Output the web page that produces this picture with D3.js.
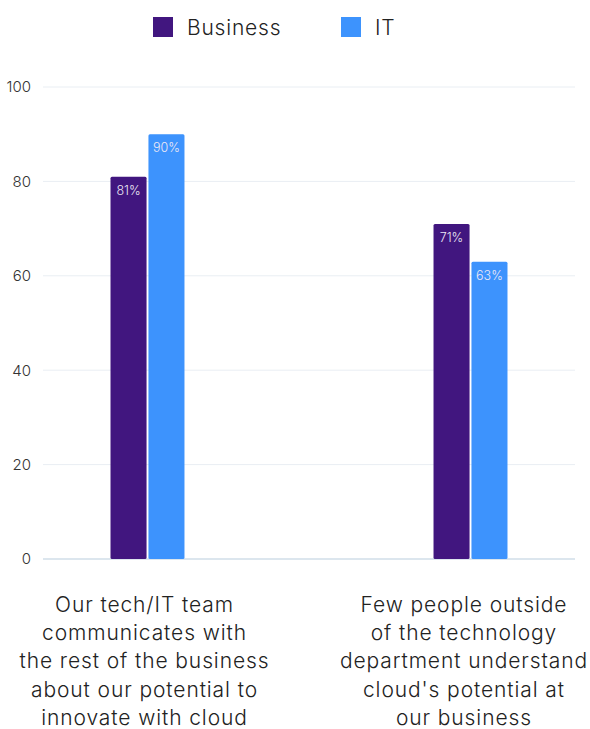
<!DOCTYPE html>
<html>
<head>
<meta charset="utf-8">
<script src="https://cdn.jsdelivr.net/npm/d3@7"></script>
<style>
  body { margin: 0; background: #fff; font-family: Inter, "Noto Sans", sans-serif; }
</style>
</head>
<body>
<div id="chart"></div>
<script>
const categories = [
    ["Our tech/IT team", "communicates with", "the rest of the business", "about our potential to", "innovate with cloud"],
    ["Few people outside", "of the technology", "department understand", "cloud's potential at", "our business"]
];
const seriesNames = ["Business", "IT"];
const businessValues = [81, 71];
const itValues = [90, 63];
const yTicks = [0, 20, 40, 60, 80, 100];
const colors = ["#41167f", "#3d93fd"];

const width = 590, height = 729;
const margin = { LEFT: 43, RIGHT: 15, TOP: 87, BOTTOM: 170 };
const innerW = width - margin.LEFT - margin.RIGHT;
const innerH = height - margin.TOP - margin.BOTTOM;

const svg = d3.select("#chart").append("svg")
    .attr("width", width)
    .attr("height", height);

const g = svg.append("g")
    .attr("transform", `translate(${margin.LEFT}, ${margin.TOP})`);

const data = categories.map((c, i) => ({
    label: c,
    values: [businessValues[i], itValues[i]]
}));

const x = d3.scaleBand()
    .domain(d3.range(categories.length))
    .range([0, innerW])
    .paddingInner(0.771)
    .paddingOuter(0.209);

const xSub = d3.scaleBand()
    .domain(d3.range(seriesNames.length))
    .range([0, x.bandwidth()])
    .paddingInner(0.05);

const y = d3.scaleLinear()
    .domain([0, 100])
    .range([innerH, 0]);

// grid lines
g.append("g")
    .attr("class", "grid")
    .selectAll("line")
    .data(yTicks)
    .enter().append("line")
    .attr("x1", 0)
    .attr("x2", innerW)
    .attr("y1", d => y(d))
    .attr("y2", d => y(d))
    .attr("stroke", d => d === 0 ? "#dce6ee" : "#e9eef3")
    .attr("stroke-width", d => d === 0 ? 2 : 1);

// Y axis labels
const yAxisCall = d3.axisLeft(y).tickValues(yTicks).tickSize(0).tickPadding(12);
const yAxisGroup = g.append("g").call(yAxisCall);
yAxisGroup.select(".domain").remove();
yAxisGroup.selectAll("text")
    .attr("font-size", "15px")
    .attr("font-family", "Inter, sans-serif")
    .attr("font-weight", 300)
    .attr("fill", "#333");

// bars
const groups = g.selectAll(".group")
    .data(data)
    .enter().append("g")
    .attr("class", "group")
    .attr("transform", (d, i) => `translate(${x(i)}, 0)`);

groups.selectAll("rect")
    .data(d => d.values)
    .enter().append("rect")
    .attr("x", (d, j) => xSub(j))
    .attr("y", d => y(d))
    .attr("width", xSub.bandwidth())
    .attr("height", d => innerH - y(d))
    .attr("rx", 1.5)
    .attr("fill", (d, j) => colors[j]);

groups.selectAll(".value")
    .data(d => d.values)
    .enter().append("text")
    .attr("class", "value")
    .attr("x", (d, j) => xSub(j) + xSub.bandwidth() / 2)
    .attr("y", d => y(d) + 18)
    .attr("text-anchor", "middle")
    .attr("font-size", "12.5px")
    .attr("font-weight", 300)
    .attr("fill", "#ece8f5")
    .text(d => `${d}%`);

// category labels, centred under each group but kept inside the page
groups.each(function (d, i) {
    const t = d3.select(this).append("text")
        .attr("text-anchor", "middle")
        .attr("font-size", "21px")
        .attr("font-weight", 300)
        .attr("letter-spacing", "0.9px")
        .attr("fill", "#222");
    d.label.forEach((line, k) => {
        t.append("tspan")
            .attr("x", x.bandwidth() / 2)
            .attr("y", innerH + 53 + k * 28.2)
            .text(line);
    });
    const widest = d3.max(t.selectAll("tspan").nodes(), n => n.getComputedTextLength());
    const centre = margin.LEFT + x(i) + x.bandwidth() / 2 - 3;
    const shift = Math.min(0, width - 2 - (centre + widest / 2));
    t.attr("transform", `translate(${shift - 3}, 0)`);
});

// legend
const legend = svg.append("g").attr("transform", "translate(153, 17)");
const legendX = [0, 188];
seriesNames.forEach((name, i) => {
    const item = legend.append("g").attr("transform", `translate(${legendX[i]}, 0)`);
    item.append("rect")
        .attr("width", 20)
        .attr("height", 20)
        .attr("fill", colors[i]);
    item.append("text")
        .attr("x", 34)
        .attr("y", 18)
        .attr("font-size", "21px")
        .attr("font-weight", 300)
        .attr("letter-spacing", "0.8px")
        .attr("fill", "#222")
        .text(name);
});
</script>
</body>
</html>
